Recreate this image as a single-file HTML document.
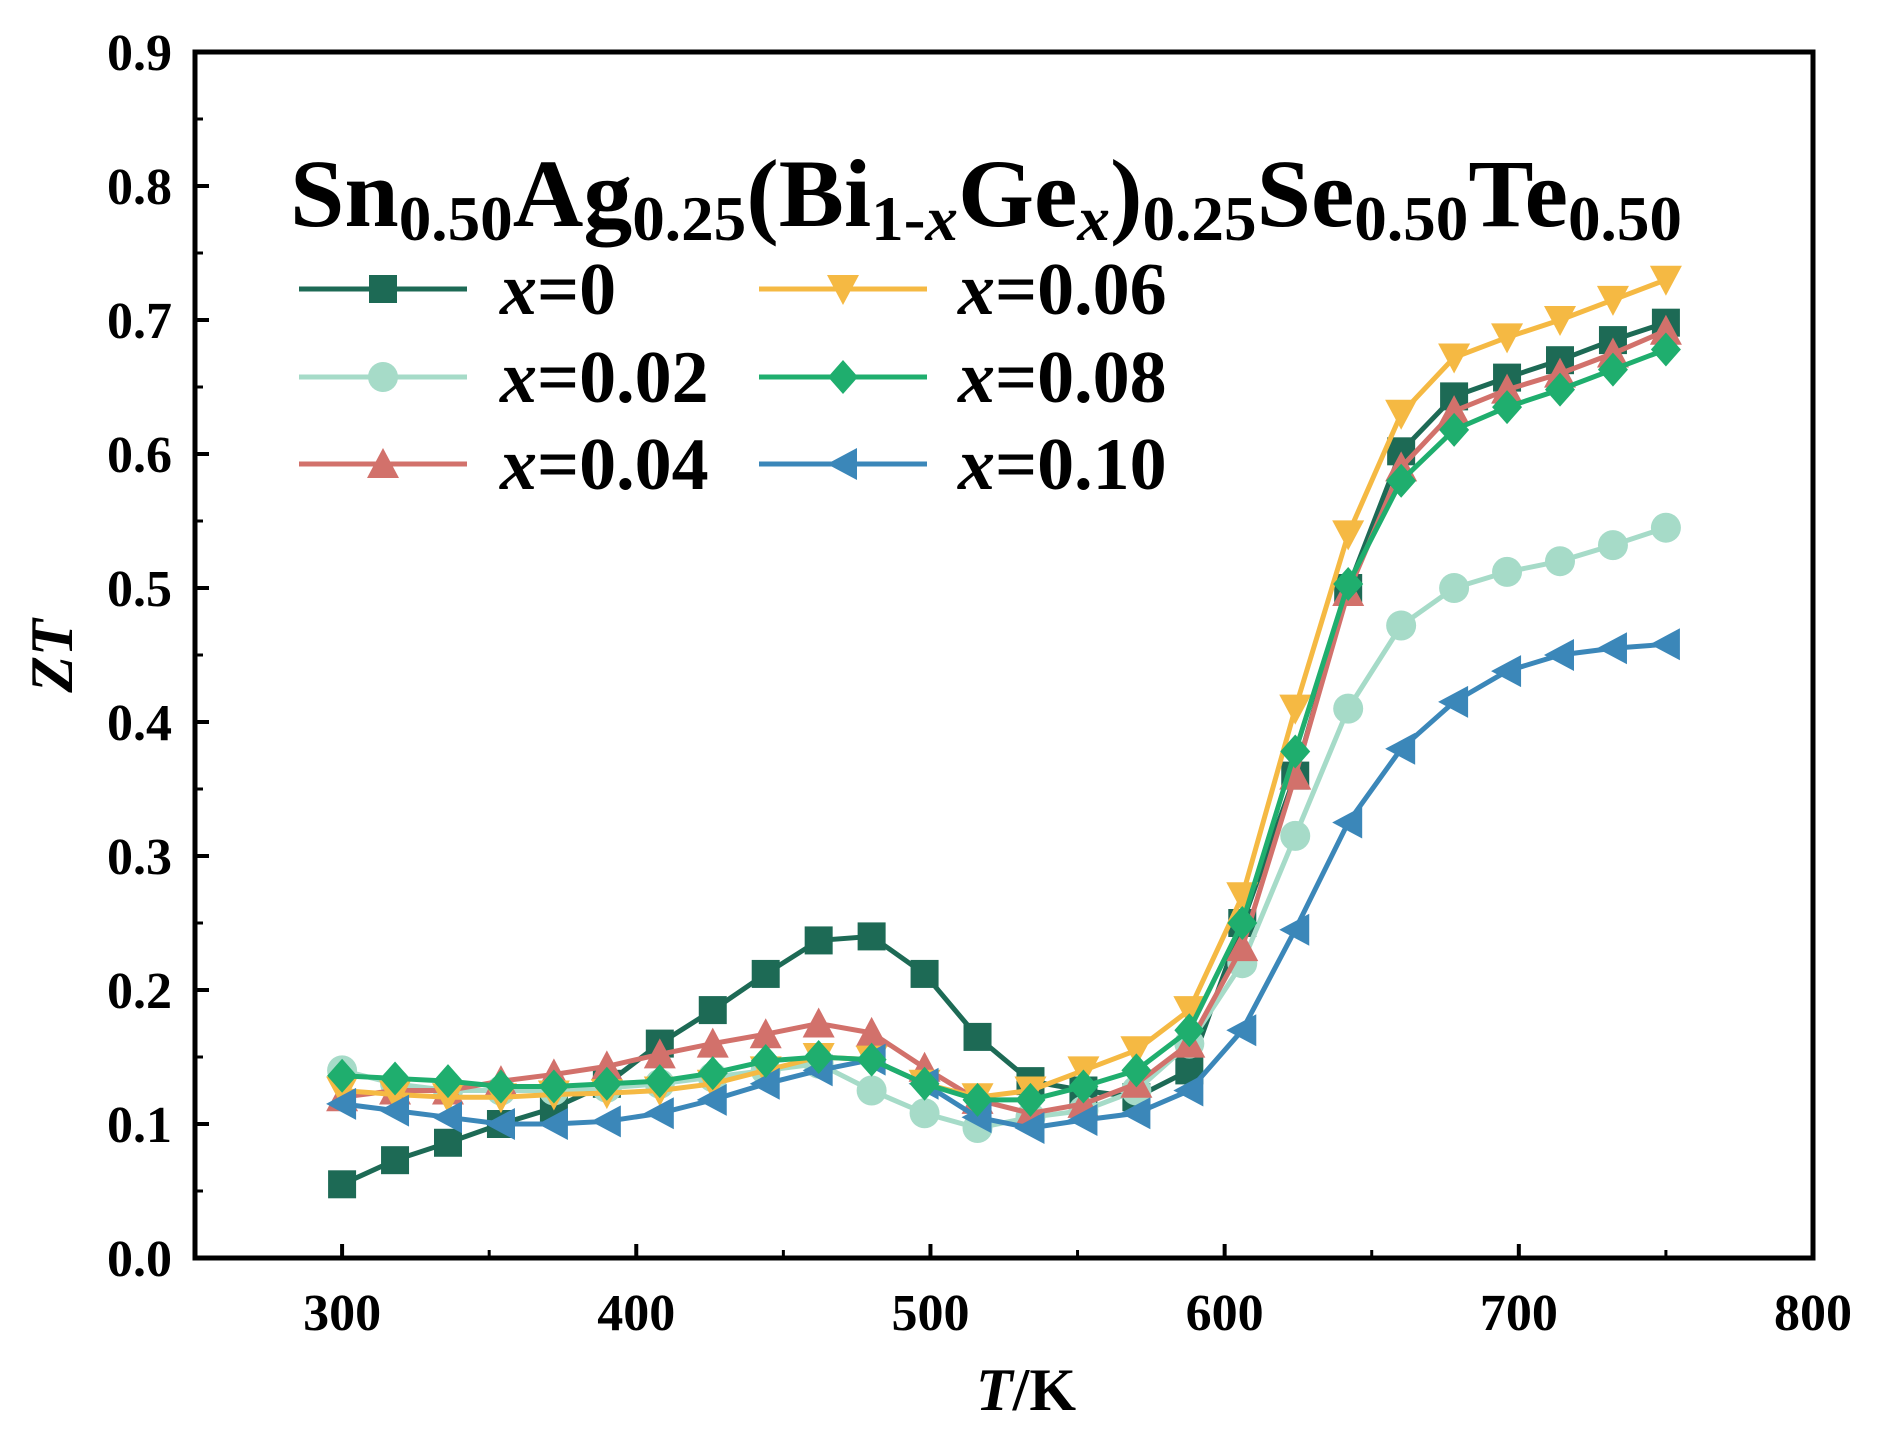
<!DOCTYPE html>
<html><head><meta charset="utf-8"><style>
html,body{margin:0;padding:0;background:#fff;}
svg{display:block;font-family:"Liberation Serif",serif;font-weight:bold;}
</style></head><body>
<svg id="chart" width="1879" height="1433" viewBox="0 0 1879 1433" xmlns="http://www.w3.org/2000/svg">
<g id="axes"></g>
<g id="series"></g>
<text x="290" y="226" font-size="96" textLength="1392" lengthAdjust="spacingAndGlyphs">Sn<tspan font-size="64" dy="14">0.50</tspan><tspan dy="-14">Ag</tspan><tspan font-size="64" dy="14">0.25</tspan><tspan dy="-14">(Bi</tspan><tspan font-size="64" dy="14">1-</tspan><tspan font-size="64" font-style="italic">x</tspan><tspan dy="-14">Ge</tspan><tspan font-size="64" dy="14" font-style="italic">x</tspan><tspan dy="-14">)</tspan><tspan font-size="64" dy="14">0.25</tspan><tspan dy="-14">Se</tspan><tspan font-size="64" dy="14">0.50</tspan><tspan dy="-14">Te</tspan><tspan font-size="64" dy="14">0.50</tspan></text>
<g id="legend"></g>
<text x="1026" y="1410" font-size="60" text-anchor="middle"><tspan font-style="italic">T</tspan>/K</text>
<text transform="translate(72,656) rotate(-90)" font-size="60" text-anchor="middle" font-style="italic">ZT</text>
</svg>
<script>
const temps=[300,318,336,354,372,390,408,426,444,462,480,498,516,534,552,570,588,606,624,642,660,678,696,714,732,750];
const s0=[0.055,0.073,0.086,0.10,0.112,0.13,0.16,0.185,0.212,0.237,0.24,0.212,0.165,0.132,0.125,0.12,0.14,0.25,0.36,0.50,0.602,0.643,0.657,0.67,0.685,0.698];
const s02=[0.14,0.13,0.125,0.125,0.125,0.127,0.13,0.135,0.14,0.145,0.125,0.108,0.097,0.105,0.11,0.125,0.16,0.22,0.315,0.41,0.472,0.50,0.512,0.52,0.532,0.545];
const s04=[0.12,0.125,0.125,0.132,0.137,0.143,0.152,0.16,0.167,0.175,0.168,0.142,0.118,0.108,0.115,0.13,0.16,0.232,0.36,0.497,0.59,0.632,0.648,0.66,0.675,0.692];
const s06=[0.125,0.122,0.12,0.12,0.122,0.123,0.125,0.13,0.14,0.15,0.148,0.13,0.12,0.125,0.14,0.155,0.185,0.27,0.41,0.54,0.63,0.672,0.687,0.70,0.715,0.73];
const s08=[0.136,0.134,0.132,0.128,0.128,0.13,0.132,0.138,0.147,0.15,0.148,0.13,0.118,0.118,0.128,0.14,0.17,0.25,0.378,0.503,0.58,0.618,0.635,0.648,0.663,0.678];
const s10=[0.115,0.11,0.105,0.10,0.10,0.102,0.108,0.118,0.13,0.14,0.148,0.13,0.105,0.097,0.103,0.108,0.125,0.17,0.245,0.325,0.38,0.415,0.438,0.45,0.455,0.458];
const seriesLabels=["0","0.02","0.04","0.06","0.08","0.10"];
const xTicks=[300,400,500,600,700,800];
const yTicks=[0.0,0.1,0.2,0.3,0.4,0.5,0.6,0.7,0.8,0.9];

const NS="http://www.w3.org/2000/svg";
const L=195,R=1813,T=52,B=1258;
const xs=v=>L+(v-250)/550*(R-L);
const ys=v=>B-v/0.9*(B-T);
function mk(tag,attrs,parent){const e=document.createElementNS(NS,tag);for(const k in attrs)e.setAttribute(k,attrs[k]);parent.appendChild(e);return e;}
const axes=document.getElementById('axes');
let f=mk('rect',{x:L,y:T,width:R-L,height:B-T,fill:'none',stroke:'#000','stroke-width':5},axes);


xTicks.forEach(v=>{
  let t=mk('line',{x1:xs(v),x2:xs(v),y1:B,y2:B-14,stroke:'#000','stroke-width':4},axes);
  
  
  let m=mk('line',{x1:xs(v-50),x2:xs(v-50),y1:B,y2:B-8,stroke:'#000','stroke-width':3},axes);
  
  
  let lb=mk('text',{x:xs(v),y:1330,'font-size':52,'text-anchor':'middle'},axes);lb.textContent=v;
  
  
});
yTicks.forEach(v=>{
  let t=mk('line',{x1:L,x2:L+14,y1:ys(v),y2:ys(v),stroke:'#000','stroke-width':4},axes);
  
  
  if(v<0.85){let m=mk('line',{x1:L,x2:L+8,y1:ys(v+0.05),y2:ys(v+0.05),stroke:'#000','stroke-width':3},axes);
  
  }
  let lb=mk('text',{x:172,y:ys(v)+18,'font-size':52,'text-anchor':'end'},axes);lb.textContent=v.toFixed(1);
  
  
});
const colors=['#1d6a55','#a6dbc8','#d2716b','#f5b943','#1fae6e','#3b87b9'];
const shapes=['square','circle','tri-up','tri-down','diamond','tri-left'];
function marker(shape,x,y,c,p){
  const s=14;let e;
  if(shape==='square')e=mk('rect',{x:x-s,y:y-s,width:2*s,height:2*s,fill:c},p);
  else if(shape==='circle')e=mk('circle',{cx:x,cy:y,r:s+1,fill:c},p);
  else{let pts;
    if(shape==='tri-up')pts=[[x,y-s-2],[x-s-2,y+s],[x+s+2,y+s]];
    else if(shape==='tri-down')pts=[[x,y+s+2],[x-s-2,y-s],[x+s+2,y-s]];
    else if(shape==='tri-left')pts=[[x-s-2,y],[x+s,y-s-2],[x+s,y+s+2]];
    else pts=[[x,y-s-3],[x+s+1,y],[x,y+s+3],[x-s-1,y]];
    e=mk('polygon',{points:pts.map(q=>q.join(',')).join(' '),fill:c},p);}
  return e;
}
const all=[s0,s02,s04,s06,s08,s10];
const order=[0,1,2,3,5,4];
const sg=document.getElementById('series');
order.forEach(i=>{
  const g=mk('g',{},sg);
  
  
  const pl=mk('polyline',{points:temps.map((t,j)=>xs(t)+','+ys(all[i][j])).join(' '),fill:'none',stroke:colors[i],'stroke-width':5},g);
  
  
  temps.forEach((t,j)=>{const m=marker(shapes[i],xs(t),ys(all[i][j]),colors[i],g);
    
    });
});
const lg=document.getElementById('legend');
const ly=[289,377,464];
seriesLabels.forEach((lab,i)=>{
  const col=Math.floor(i/3),row=i%3;
  const x0=col?759:299,x1=col?927:467,tx=col?958:500;
  const g=mk('g',{},lg);
  
  
  mk('line',{x1:x0,x2:x1,y1:ly[row],y2:ly[row],stroke:colors[i],'stroke-width':5},g);
  marker(shapes[i],(x0+x1)/2,ly[row],colors[i],g);
  const t=mk('text',{x:tx,y:ly[row]+25,'font-size':74},g);
  t.innerHTML='<tspan font-style="italic">x</tspan>='+lab;
});
</script>
</body></html>
